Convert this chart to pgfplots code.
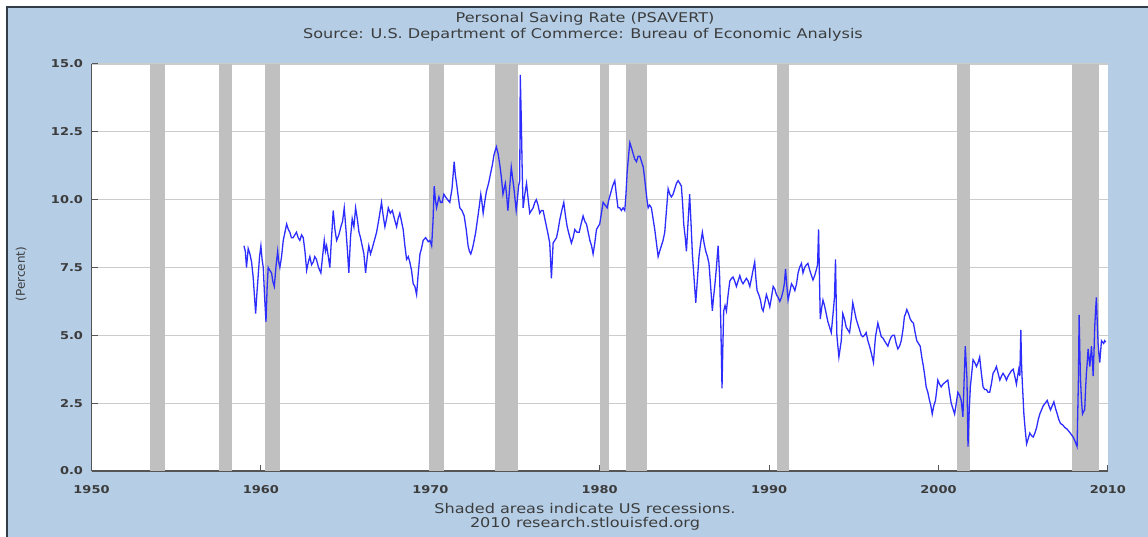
\documentclass[border=0pt]{standalone}
\usepackage{fontspec}
\setmainfont{DejaVu Sans}[FakeStretch=1.2]
\newfontfamily\plainfont{DejaVu Sans}
\usepackage{pgfplots}
\pgfplotsset{compat=1.18}
\definecolor{bgblue}{RGB}{181,206,230}
\definecolor{framec}{RGB}{50,60,70}
\definecolor{txt}{RGB}{60,60,60}
\definecolor{axisgray}{RGB}{85,85,85}
\definecolor{gridgray}{RGB}{204,204,204}
\definecolor{recgray}{RGB}{192,192,192}
\definecolor{lineblue}{RGB}{45,45,255}
\pgfplotstableread{
year value
1959.00 8.3
1959.08 8.1
1959.15 7.5
1959.25 8.2
1959.35 8.0
1959.45 7.7
1959.55 7.1
1959.69 5.8
1959.77 6.6
1959.84 7.2
1959.92 7.9
1960.00 8.3
1960.07 7.8
1960.14 7.5
1960.22 6.4
1960.30 5.5
1960.37 6.8
1960.43 7.5
1960.52 7.4
1960.63 7.3
1960.70 7.0
1960.79 6.8
1960.90 7.6
1960.99 8.1
1961.05 7.7
1961.12 7.5
1961.22 7.9
1961.32 8.5
1961.42 8.8
1961.52 9.1
1961.62 8.9
1961.71 8.8
1961.80 8.6
1961.90 8.6
1962.00 8.7
1962.10 8.8
1962.20 8.6
1962.30 8.5
1962.40 8.7
1962.50 8.6
1962.60 8.1
1962.70 7.4
1962.80 7.7
1962.89 7.9
1962.99 7.6
1963.09 7.7
1963.18 7.9
1963.28 7.8
1963.40 7.5
1963.54 7.3
1963.64 7.9
1963.74 8.5
1963.81 8.1
1963.88 8.3
1963.98 7.9
1964.07 7.5
1964.17 8.6
1964.27 9.6
1964.37 8.9
1964.47 8.5
1964.60 8.7
1964.72 9.0
1964.82 9.2
1964.92 9.7
1965.02 8.9
1965.10 8.2
1965.19 7.3
1965.29 8.6
1965.39 9.3
1965.49 9.0
1965.59 9.7
1965.69 9.3
1965.79 8.8
1965.88 8.6
1965.98 8.3
1966.08 8.0
1966.18 7.3
1966.28 7.9
1966.37 8.3
1966.47 8.0
1966.57 8.2
1966.70 8.5
1966.83 8.8
1966.97 9.3
1967.12 9.9
1967.22 9.4
1967.32 9.0
1967.42 9.3
1967.52 9.7
1967.64 9.5
1967.76 9.6
1967.88 9.3
1968.01 9.0
1968.10 9.3
1968.20 9.5
1968.30 9.2
1968.40 8.9
1968.50 8.3
1968.60 7.8
1968.70 7.9
1968.79 7.7
1968.89 7.4
1968.99 6.9
1969.09 6.8
1969.19 6.5
1969.29 7.3
1969.39 8.0
1969.48 8.2
1969.58 8.5
1969.73 8.6
1969.88 8.45
1969.98 8.5
1970.08 8.3
1970.16 9.2
1970.23 10.5
1970.30 10.0
1970.37 9.7
1970.44 9.9
1970.51 10.1
1970.60 9.9
1970.70 9.9
1970.80 10.2
1970.90 10.1
1971.02 10.0
1971.15 9.9
1971.28 10.4
1971.41 11.4
1971.48 10.9
1971.55 10.6
1971.65 10.1
1971.74 9.7
1971.87 9.6
1972.00 9.4
1972.12 8.9
1972.23 8.3
1972.31 8.1
1972.39 8.0
1972.49 8.2
1972.59 8.5
1972.68 8.8
1972.78 9.25
1972.88 9.7
1972.98 10.2
1973.05 9.9
1973.12 9.5
1973.21 9.9
1973.31 10.3
1973.44 10.6
1973.57 11.0
1973.67 11.3
1973.76 11.65
1973.90 11.95
1974.00 11.7
1974.10 11.3
1974.20 10.8
1974.29 10.2
1974.36 10.4
1974.43 10.6
1974.50 10.2
1974.58 9.6
1974.68 10.4
1974.78 11.2
1974.86 10.8
1974.94 10.4
1975.07 9.6
1975.14 10.0
1975.21 10.5
1975.28 10.7
1975.31 14.6
1975.37 13.0
1975.43 10.9
1975.48 9.7
1975.58 10.2
1975.68 10.6
1975.78 10.0
1975.87 9.5
1975.97 9.6
1976.07 9.7
1976.17 9.9
1976.26 10.0
1976.36 9.8
1976.46 9.5
1976.56 9.6
1976.66 9.6
1976.76 9.3
1976.86 9.0
1976.96 8.7
1977.05 8.4
1977.15 7.1
1977.25 8.4
1977.35 8.5
1977.45 8.6
1977.55 8.9
1977.64 9.25
1977.76 9.6
1977.88 9.9
1977.98 9.4
1978.08 9.0
1978.20 8.7
1978.33 8.4
1978.43 8.6
1978.53 8.9
1978.66 8.8
1978.79 8.8
1978.90 9.1
1979.02 9.4
1979.12 9.2
1979.22 9.1
1979.32 8.8
1979.42 8.5
1979.52 8.3
1979.61 8.0
1979.71 8.4
1979.81 8.9
1979.90 9.0
1980.00 9.1
1980.10 9.5
1980.20 9.9
1980.32 9.8
1980.44 9.7
1980.54 10.0
1980.63 10.2
1980.76 10.5
1980.89 10.7
1980.98 10.2
1981.08 9.7
1981.18 9.7
1981.28 9.6
1981.38 9.7
1981.48 9.6
1981.55 10.2
1981.62 11.0
1981.70 11.6
1981.78 12.1
1981.88 11.9
1981.97 11.7
1982.07 11.5
1982.17 11.4
1982.27 11.6
1982.37 11.6
1982.47 11.4
1982.57 11.2
1982.65 10.8
1982.72 10.4
1982.79 10.0
1982.86 9.7
1982.95 9.8
1983.05 9.7
1983.15 9.3
1983.25 8.9
1983.35 8.4
1983.45 7.9
1983.54 8.1
1983.64 8.3
1983.74 8.5
1983.84 8.8
1983.94 9.6
1984.04 10.4
1984.14 10.2
1984.23 10.1
1984.33 10.2
1984.43 10.4
1984.53 10.6
1984.63 10.7
1984.73 10.6
1984.82 10.5
1984.90 9.8
1984.96 9.1
1985.05 8.6
1985.12 8.1
1985.20 9.0
1985.31 10.2
1985.40 9.0
1985.47 8.0
1985.57 7.1
1985.67 6.2
1985.76 7.0
1985.86 7.9
1985.96 8.4
1986.06 8.8
1986.16 8.4
1986.26 8.1
1986.36 7.9
1986.45 7.65
1986.55 6.8
1986.65 5.9
1986.72 6.4
1986.79 6.8
1986.89 7.5
1986.99 8.3
1987.08 7.15
1987.15 5.4
1987.22 3.05
1987.27 4.6
1987.32 5.9
1987.40 6.1
1987.48 5.9
1987.58 6.5
1987.68 7.0
1987.78 7.1
1987.87 7.15
1987.97 7.0
1988.07 6.8
1988.17 7.0
1988.27 7.2
1988.37 7.0
1988.46 6.9
1988.56 7.0
1988.66 7.1
1988.76 7.0
1988.86 6.8
1988.96 7.1
1989.05 7.4
1989.15 7.7
1989.22 7.1
1989.29 6.65
1989.39 6.5
1989.49 6.3
1989.57 6.0
1989.65 5.9
1989.75 6.2
1989.84 6.5
1989.94 6.3
1990.04 6.05
1990.14 6.4
1990.24 6.8
1990.34 6.7
1990.43 6.5
1990.53 6.4
1990.63 6.25
1990.73 6.4
1990.83 6.65
1990.90 6.9
1990.97 7.45
1991.05 6.8
1991.12 6.3
1991.22 6.6
1991.32 6.9
1991.42 6.8
1991.52 6.65
1991.62 6.9
1991.71 7.3
1991.80 7.5
1991.91 7.65
1992.00 7.3
1992.10 7.5
1992.20 7.6
1992.29 7.65
1992.40 7.4
1992.50 7.2
1992.59 7.04
1992.69 7.2
1992.78 7.4
1992.86 7.6
1992.92 8.9
1992.97 7.2
1993.02 5.6
1993.10 6.0
1993.18 6.3
1993.27 6.1
1993.37 5.8
1993.47 5.5
1993.57 5.3
1993.67 5.1
1993.76 5.7
1993.86 6.4
1993.92 7.8
1993.96 6.3
1994.00 5.0
1994.06 4.6
1994.12 4.2
1994.19 4.5
1994.26 4.8
1994.35 5.8
1994.45 5.6
1994.55 5.3
1994.65 5.2
1994.75 5.1
1994.85 5.6
1994.94 6.2
1995.04 5.9
1995.14 5.6
1995.24 5.4
1995.34 5.2
1995.44 5.0
1995.53 4.95
1995.63 5.0
1995.73 5.1
1995.83 4.8
1995.93 4.6
1996.05 4.3
1996.16 4.0
1996.22 4.5
1996.28 4.95
1996.35 5.2
1996.42 5.45
1996.52 5.2
1996.62 4.95
1996.72 4.9
1996.81 4.8
1996.91 4.7
1997.01 4.6
1997.11 4.8
1997.21 4.95
1997.30 5.0
1997.40 5.0
1997.50 4.7
1997.60 4.5
1997.70 4.6
1997.80 4.8
1997.90 5.2
1997.99 5.7
1998.06 5.8
1998.13 5.95
1998.23 5.8
1998.33 5.6
1998.43 5.5
1998.52 5.45
1998.62 5.1
1998.72 4.8
1998.82 4.7
1998.92 4.6
1999.01 4.2
1999.11 3.85
1999.19 3.5
1999.27 3.1
1999.37 2.9
1999.47 2.6
1999.55 2.4
1999.63 2.1
1999.72 2.4
1999.82 2.6
1999.90 3.0
1999.96 3.35
2000.06 3.2
2000.16 3.1
2000.26 3.2
2000.36 3.25
2000.45 3.3
2000.55 3.35
2000.65 2.9
2000.75 2.5
2000.85 2.3
2000.95 2.1
2001.05 2.5
2001.14 2.9
2001.24 2.8
2001.34 2.6
2001.44 2.0
2001.51 3.3
2001.58 4.6
2001.63 4.0
2001.68 3.4
2001.74 0.9
2001.81 2.2
2001.88 3.1
2001.96 3.6
2002.04 4.1
2002.14 4.0
2002.24 3.85
2002.34 4.0
2002.43 4.2
2002.53 3.6
2002.63 3.1
2002.73 3.0
2002.83 3.0
2002.93 2.9
2003.02 2.9
2003.12 3.2
2003.22 3.6
2003.32 3.7
2003.42 3.85
2003.52 3.6
2003.62 3.35
2003.72 3.5
2003.81 3.6
2003.91 3.5
2004.01 3.35
2004.11 3.5
2004.21 3.6
2004.31 3.7
2004.41 3.75
2004.50 3.5
2004.60 3.2
2004.67 3.5
2004.74 3.75
2004.80 3.5
2004.86 5.2
2004.90 4.0
2004.94 3.35
2005.00 2.6
2005.04 2.1
2005.12 1.5
2005.20 1.0
2005.30 1.2
2005.39 1.4
2005.49 1.3
2005.59 1.25
2005.69 1.4
2005.79 1.6
2005.89 1.9
2005.98 2.1
2006.08 2.25
2006.18 2.4
2006.30 2.5
2006.42 2.6
2006.52 2.4
2006.61 2.25
2006.71 2.4
2006.81 2.55
2006.91 2.3
2007.01 2.1
2007.10 1.9
2007.20 1.75
2007.33 1.7
2007.46 1.6
2007.58 1.55
2007.71 1.45
2007.83 1.35
2007.95 1.25
2008.06 1.1
2008.18 0.9
2008.26 3.4
2008.30 5.75
2008.34 4.5
2008.38 3.4
2008.44 2.6
2008.50 2.1
2008.57 2.2
2008.63 2.25
2008.68 3.0
2008.73 3.6
2008.78 4.0
2008.83 4.5
2008.88 4.2
2008.93 3.85
2008.98 4.2
2009.03 4.6
2009.08 4.1
2009.13 3.5
2009.18 4.4
2009.22 5.3
2009.27 5.9
2009.32 6.4
2009.37 5.5
2009.42 4.7
2009.47 4.3
2009.52 4.0
2009.57 4.4
2009.62 4.8
2009.68 4.75
2009.75 4.7
2009.81 4.8
2009.87 4.75
}\savingdata

\begin{document}
\begin{tikzpicture}[x=1pt,y=1pt]
\useasboundingbox (0,0) rectangle (1148,536);
\fill[white] (0,0) rectangle (1148,536);
\fill[bgblue] (7,-5) rectangle (1155,529);
\draw[framec, line width=1.5pt] (7,-5) -- (7,529) -- (1155,529);
\begin{axis}[
  at={(91.5pt,65pt)}, anchor=south west,
  width=1016.5pt, height=407pt, scale only axis,
  xmin=1950, xmax=2010, ymin=0, ymax=15,
  axis background/.style={fill=white},
  axis x line*=bottom, axis y line*=left,
  axis line style={axisgray, line width=1.5pt},
  xtick={1950,1960,...,2010},
  ytick={0,2.5,...,15},
  tick align=inside,
  major tick length=6.5pt,
  tick style={axisgray, line width=1pt},
  ymajorgrids,
  major grid style={gridgray, line width=1.3pt},
  /pgf/number format/assume math mode=true,
  tick label style={font=\bfseries\fontsize{10.8}{12}\selectfont, text=txt},
  x tick label style={/pgf/number format/1000 sep={}, yshift=-10.5pt},
  y tick label style={/pgf/number format/fixed, /pgf/number format/fixed zerofill, /pgf/number format/precision=1, xshift=-5pt},
  clip=true,
]
\addplot[fill=recgray, draw=none, forget plot] coordinates {(1953.45,15) (1954.35,15)} \closedcycle;
\addplot[fill=recgray, draw=none, forget plot] coordinates {(1957.55,15) (1958.3,15)} \closedcycle;
\addplot[fill=recgray, draw=none, forget plot] coordinates {(1960.25,15) (1961.12,15)} \closedcycle;
\addplot[fill=recgray, draw=none, forget plot] coordinates {(1969.9,15) (1970.82,15)} \closedcycle;
\addplot[fill=recgray, draw=none, forget plot] coordinates {(1973.8,15) (1975.17,15)} \closedcycle;
\addplot[fill=recgray, draw=none, forget plot] coordinates {(1980.0,15) (1980.55,15)} \closedcycle;
\addplot[fill=recgray, draw=none, forget plot] coordinates {(1981.54,15) (1982.82,15)} \closedcycle;
\addplot[fill=recgray, draw=none, forget plot] coordinates {(1990.45,15) (1991.15,15)} \closedcycle;
\addplot[fill=recgray, draw=none, forget plot] coordinates {(2001.12,15) (2001.88,15)} \closedcycle;
\addplot[fill=recgray, draw=none, forget plot] coordinates {(2007.88,15) (2009.5,15)} \closedcycle;
\addplot[lineblue, line width=1.3pt] table[x=year, y=value] {\savingdata};
\end{axis}
\begin{scope}[every node/.style={text=txt, font=\fontsize{13.4}{15}\selectfont, inner sep=0pt}]
\node at (585,517) {Personal Saving Rate (PSAVERT)};
\node at (583,501) {Source: U.S. Department of Commerce: Bureau of Economic Analysis};
\node at (585,27) {Shaded areas indicate US recessions.};
\node at (585,12) {2010 research.stlouisfed.org};
\node[rotate=90, font=\plainfont\fontsize{12}{14}\selectfont] at (21,262) {(Percent)};
\end{scope}
\end{tikzpicture}
\end{document}
